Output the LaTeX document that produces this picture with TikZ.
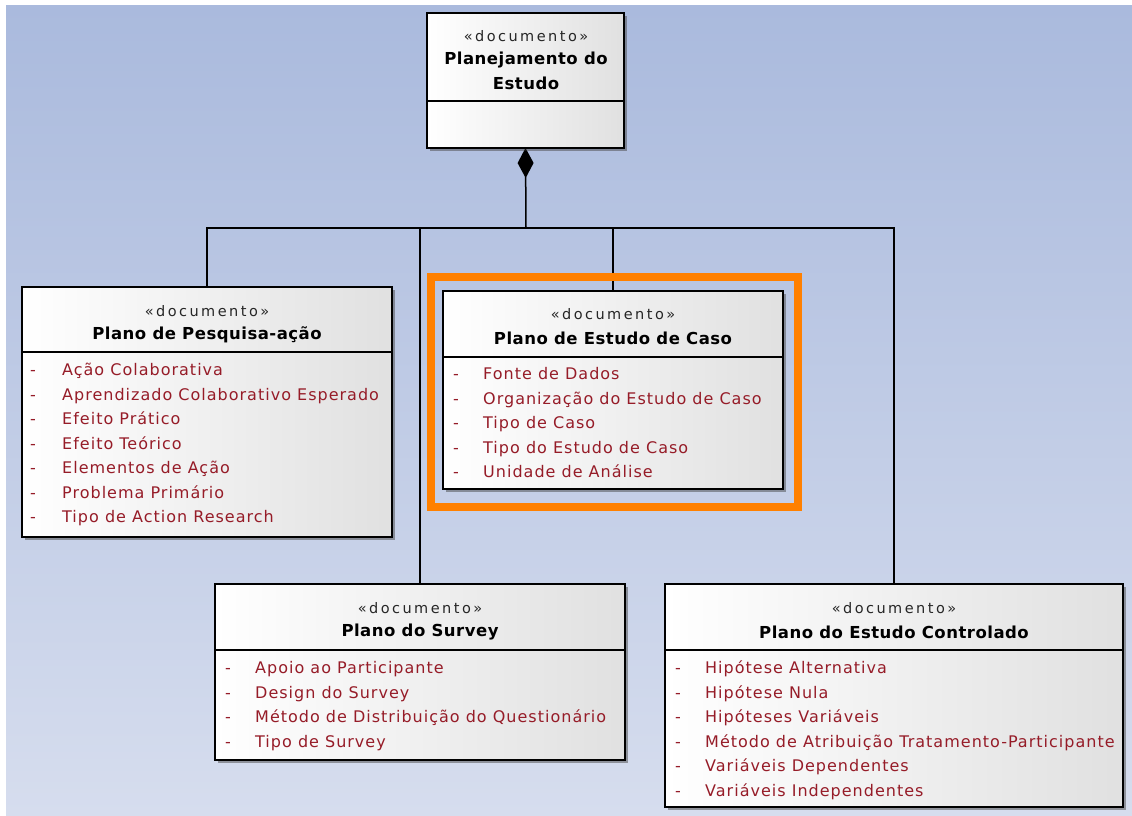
\documentclass[tikz,border=0pt]{standalone}
\usepackage{fontspec}
\setmainfont{DejaVu Sans}
\newfontfamily\attrfont{DejaVu Sans}[LetterSpace=6.3]
\newfontfamily\stereofont{DejaVu Sans}[LetterSpace=17]
\newfontfamily\titlefont{DejaVu Sans}[LetterSpace=3]
\usetikzlibrary{arrows.meta,shadows}

\definecolor{attr}{RGB}{150,28,40}
\definecolor{bgtop}{RGB}{170,186,221}
\definecolor{bgbot}{RGB}{214,221,238}
\definecolor{selframe}{RGB}{255,128,0}

\begin{document}
\begin{tikzpicture}[x=1pt,y=-1pt,
  cls/.style={draw=black,line width=1.5pt,left color=white,right color=black!12,
    drop shadow={shadow xshift=3pt,shadow yshift=-3pt,opacity=0.3,fill=black!70},
    anchor=north west,inner sep=0pt,outer sep=0pt},
  sep/.style={draw=black,line width=1.2pt},
  stereo/.style={font={\stereofont\fontsize{14.5pt}{16pt}\selectfont},text=black!85,inner sep=0pt},
  title/.style={font={\titlefont\bfseries\fontsize{16.5pt}{25pt}\selectfont},inner sep=0pt,align=center},
  attr/.style={font={\attrfont\fontsize{16pt}{18pt}\selectfont},text=attr,inner sep=0pt,anchor=mid west},
  link/.style={draw=black,line width=1.5pt},
]
% page and background
\useasboundingbox (0,0) rectangle (1132,816);
\fill[top color=bgtop,bottom color=bgbot] (6,6) rectangle (1132,816);

% class boxes, placed first so the connectors can refer to them
\node[cls,minimum width=197pt,minimum height=135pt] (pe) at (427,13) {};
\node[cls,minimum width=370pt,minimum height=250pt] (pa) at (22,287) {};
\node[cls,minimum width=340pt,minimum height=198pt] (ca) at (443,291) {};
\node[cls,minimum width=410pt,minimum height=176pt] (sv) at (215,584) {};
\node[cls,minimum width=458pt,minimum height=223pt] (co) at (665,584) {};

% composition connectors
\coordinate (hub) at (526,228);
\draw[link,-{Diamond[length=30pt,width=16pt]}] (hub) -- (pe.south);
\draw[link] (hub) -| (pa.north);
\draw[link] (hub) -| (sv.north);
\draw[link] (hub) -| (ca.north);
\draw[link] (hub) -| (co.north);

% selection frame around the case study plan
\node[draw=selframe,line width=8pt,minimum width=367pt,minimum height=230pt,
  anchor=north west,inner sep=0pt,outer sep=0pt] (sel) at (431,277) {};

% boxes again, above the connectors and the frame
\node[cls,minimum width=197pt,minimum height=135pt] (pe2) at (427,13) {};
\node[cls,minimum width=370pt,minimum height=250pt] (pa2) at (22,287) {};
\node[cls,minimum width=340pt,minimum height=198pt] (ca2) at (443,291) {};
\node[cls,minimum width=410pt,minimum height=176pt] (sv2) at (215,584) {};
\node[cls,minimum width=458pt,minimum height=223pt] (co2) at (665,584) {};

% compartment separators
\draw[sep] (pe.west |- 0,101) -- (pe.east |- 0,101);
\draw[sep] (pa.west |- 0,352) -- (pa.east |- 0,352);
\draw[sep] (ca.west |- 0,357) -- (ca.east |- 0,357);
\draw[sep] (sv.west |- 0,650) -- (sv.east |- 0,650);
\draw[sep] (co.west |- 0,650) -- (co.east |- 0,650);

% Planejamento do Estudo
\node[stereo] (pe-st) at (526,36) {«documento»};
\node[title] (pe-tt) at (526,71) {Planejamento do\\Estudo};

% Plano de Pesquisa-ação
\node[stereo] (pa-st) at (207,311) {«documento»};
\node[title] (pa-tt) at (207,335) {Plano de Pesquisa-ação};
\foreach \t [count=\i from 0] in {Ação Colaborativa,Aprendizado Colaborativo Esperado,
  Efeito Prático,Efeito Teórico,Elementos de Ação,Problema Primário,Tipo de Action Research}{
  \node[attr] (pa-d\i) at (30,{373+24.5*\i}) {-};
  \node[attr] (pa-a\i) at (62,{373+24.5*\i}) {\t};
}

% Plano de Estudo de Caso
\node[stereo] (ca-st) at (613,314) {«documento»};
\node[title] (ca-tt) at (613,338) {Plano de Estudo de Caso};
\foreach \t [count=\i from 0] in {Fonte de Dados,Organização do Estudo de Caso,
  Tipo de Caso,Tipo do Estudo de Caso,Unidade de Análise}{
  \node[attr] (ca-d\i) at (453,{377+24.5*\i}) {-};
  \node[attr] (ca-a\i) at (483,{377+24.5*\i}) {\t};
}

% Plano do Survey
\node[stereo] (sv-st) at (420,608) {«documento»};
\node[title] (sv-tt) at (420,632) {Plano do Survey};
\foreach \t [count=\i from 0] in {Apoio ao Participante,Design do Survey,
  Método de Distribuição do Questionário,Tipo de Survey}{
  \node[attr] (sv-d\i) at (225,{671+24.5*\i}) {-};
  \node[attr] (sv-a\i) at (255,{671+24.5*\i}) {\t};
}

% Plano do Estudo Controlado
\node[stereo] (co-st) at (894,608) {«documento»};
\node[title] (co-tt) at (894,632) {Plano do Estudo Controlado};
\foreach \t [count=\i from 0] in {Hipótese Alternativa,Hipótese Nula,Hipóteses Variáveis,
  Método de Atribuição Tratamento-Participante,Variáveis Dependentes,Variáveis Independentes}{
  \node[attr] (co-d\i) at (675,{671+24.5*\i}) {-};
  \node[attr] (co-a\i) at (705,{671+24.5*\i}) {\t};
}
\end{tikzpicture}
\end{document}
